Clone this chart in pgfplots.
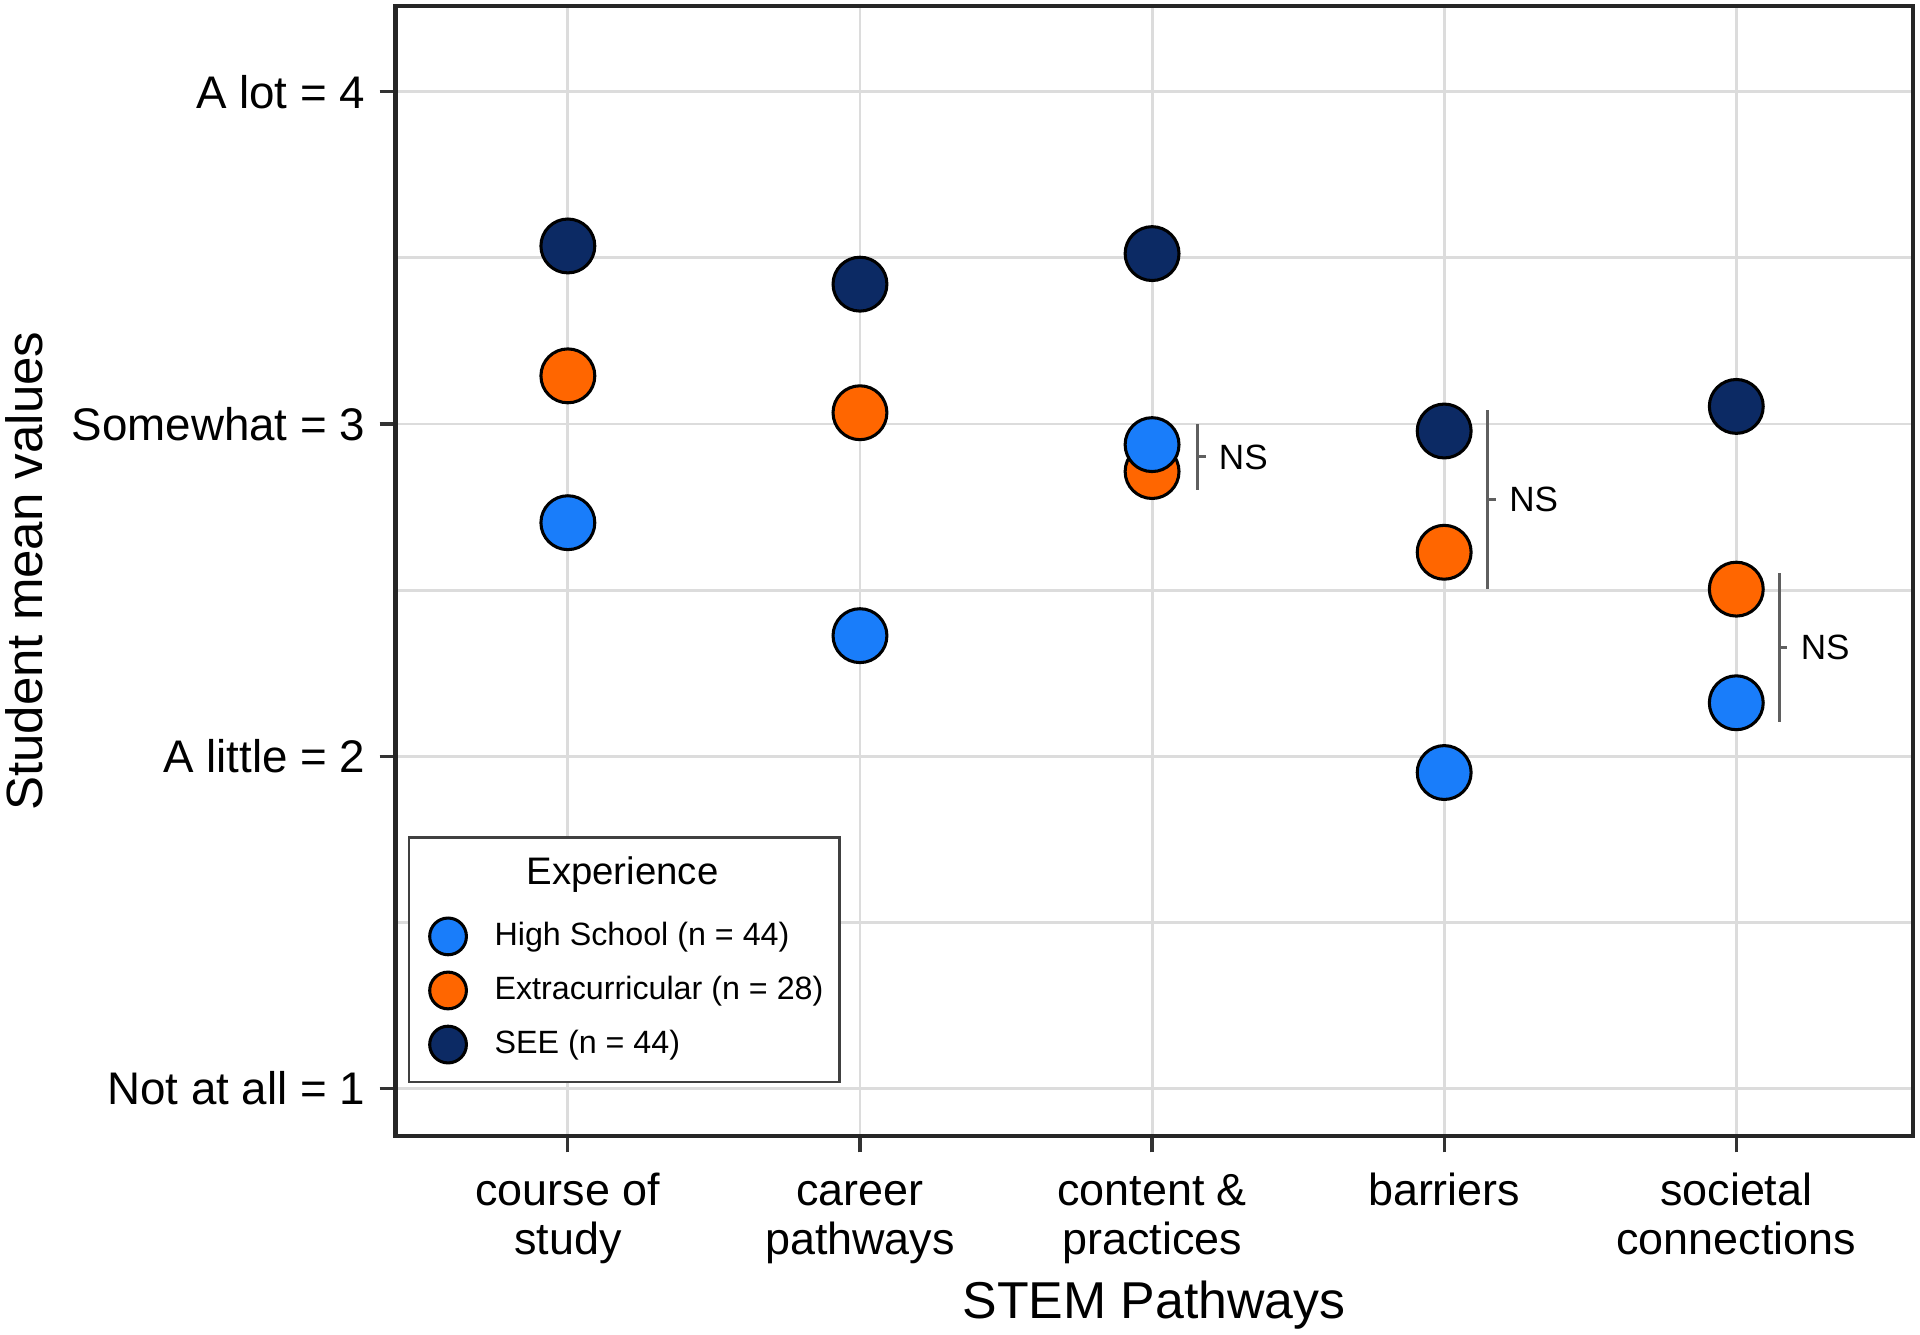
\documentclass[border=0pt]{standalone}
\usepackage{fontspec}
\setmainfont{Liberation Sans}
\usepackage{pgfplots}
\pgfplotsset{compat=1.18}

\definecolor{hsblue}{RGB}{25,125,250}
\definecolor{exorange}{RGB}{255,102,0}
\definecolor{seenavy}{RGB}{12,42,100}
\definecolor{gridgray}{RGB}{220,220,220}
\definecolor{nsgray}{RGB}{95,95,95}

\begin{document}
\begin{tikzpicture}
\begin{axis}[
    scale only axis,
    width=371.7pt, height=276.9pt,
    xmin=-0.59, xmax=4.604,
    ymin=0.856, ymax=4.258,
    xtick={0,1,2,3,4},
    xticklabels={{\rule{0pt}{8.5pt}course of\\study},{\rule{0pt}{8.5pt}career\\pathways},{\rule{0pt}{8.5pt}content \&\\practices},{\rule{0pt}{8.5pt}barriers},{\rule{0pt}{8.5pt}societal\\connections}},
    xticklabel style={align=center, font=\fontsize{11}{12}\selectfont, yshift=-1pt},
    ytick={1,2,3,4},
    yticklabels={Not at all = 1, A little = 2, Somewhat = 3, A lot = 4},
    yticklabel style={font=\fontsize{11.2}{13}\selectfont},
    minor ytick={1.5,2.5,3.5},
    grid=both,
    major grid style={gridgray, line width=0.7pt},
    minor grid style={gridgray, line width=0.7pt},
    tick align=outside, tick pos=left,
    major tick length=3.9pt, minor tick length=0pt,
    every tick/.style={black!80, line width=0.8pt},
    axis line style={black!85, line width=1pt},
    xlabel={STEM Pathways},
    xlabel style={at={(axis description cs:0.5,-0.149)}, anchor=center, font=\fontsize{12.7}{14}\selectfont},
    ylabel={Student mean values},
    ylabel style={at={(axis description cs:-0.2445,0.5)}, anchor=center, font=\fontsize{12.5}{14}\selectfont},
    legend image code/.code={
        \draw[#1] plot coordinates {(5.7pt,0pt)};
        \path[draw=none, fill=none] (0pt,-4.5pt) rectangle (17.1pt,4.5pt);
    },
    legend cell align=left,
    legend style={at={(0.008,0.2654)}, anchor=north west,
        draw=black!75, line width=0.6pt, fill=white,
        inner xsep=3.9pt, inner ysep=4.7pt,
        font=\fontsize{7.9}{9}\selectfont,
        nodes={inner sep=0pt},
        row sep=4.25pt},
]
% SEE
\addplot[only marks, mark=*, mark size=6.6pt, forget plot,
    mark options={fill=seenavy, draw=black, line width=0.75pt}]
    coordinates {(0,3.536) (1,3.421) (2,3.513) (3,2.979) (4,3.053)};
% Extracurricular
\addplot[only marks, mark=*, mark size=6.6pt, forget plot,
    mark options={fill=exorange, draw=black, line width=0.75pt}]
    coordinates {(0,3.145) (1,3.034) (2,2.857) (3,2.614) (4,2.503)};
% High School
\addplot[only marks, mark=*, mark size=6.6pt, forget plot,
    mark options={fill=hsblue, draw=black, line width=0.75pt}]
    coordinates {(0,2.703) (1,2.363) (2,2.938) (3,1.951) (4,2.161)};

% legend title row (no symbol, taller below)
\addlegendimage{legend image code/.code={\path[draw=none, fill=none] (0pt,-6.6pt) rectangle (0pt,3.9pt);}}
\addlegendentry{\hspace*{7.8pt}\fontsize{9.4}{11}\selectfont Experience}
\addlegendimage{only marks, mark=*, mark size=4.5pt, mark options={fill=hsblue, draw=black, line width=0.75pt}}
\addlegendentry{High School (n = 44)}
\addlegendimage{only marks, mark=*, mark size=4.5pt, mark options={fill=exorange, draw=black, line width=0.75pt}}
\addlegendentry{Extracurricular (n = 28)}
\addlegendimage{only marks, mark=*, mark size=4.5pt, mark options={fill=seenavy, draw=black, line width=0.75pt}}
\addlegendentry{SEE (n = 44)}

% NS brackets
\draw[nsgray, line width=0.7pt] (axis cs:2.155,3.0) -- (axis cs:2.155,2.802);
\draw[nsgray, line width=0.7pt] (axis cs:2.155,2.901) -- ++(2pt,0pt);
\node[anchor=west, inner sep=0pt, font=\fontsize{8.6}{10}\selectfont] at (axis cs:2.226,2.901) {NS};
\draw[nsgray, line width=0.7pt] (axis cs:3.149,3.042) -- (axis cs:3.149,2.503);
\draw[nsgray, line width=0.7pt] (axis cs:3.149,2.773) -- ++(2pt,0pt);
\node[anchor=west, inner sep=0pt, font=\fontsize{8.6}{10}\selectfont] at (axis cs:3.22,2.773) {NS};
\draw[nsgray, line width=0.7pt] (axis cs:4.147,2.551) -- (axis cs:4.147,2.102);
\draw[nsgray, line width=0.7pt] (axis cs:4.147,2.327) -- ++(2pt,0pt);
\node[anchor=west, inner sep=0pt, font=\fontsize{8.6}{10}\selectfont] at (axis cs:4.218,2.327) {NS};

\coordinate (pbl) at (rel axis cs:-0.2607,-0.1755);
\coordinate (ptr) at (rel axis cs:1.0048,1.0054);
\end{axis}
\pgfresetboundingbox
\path[use as bounding box] (pbl) rectangle (ptr);
\end{tikzpicture}
\end{document}
